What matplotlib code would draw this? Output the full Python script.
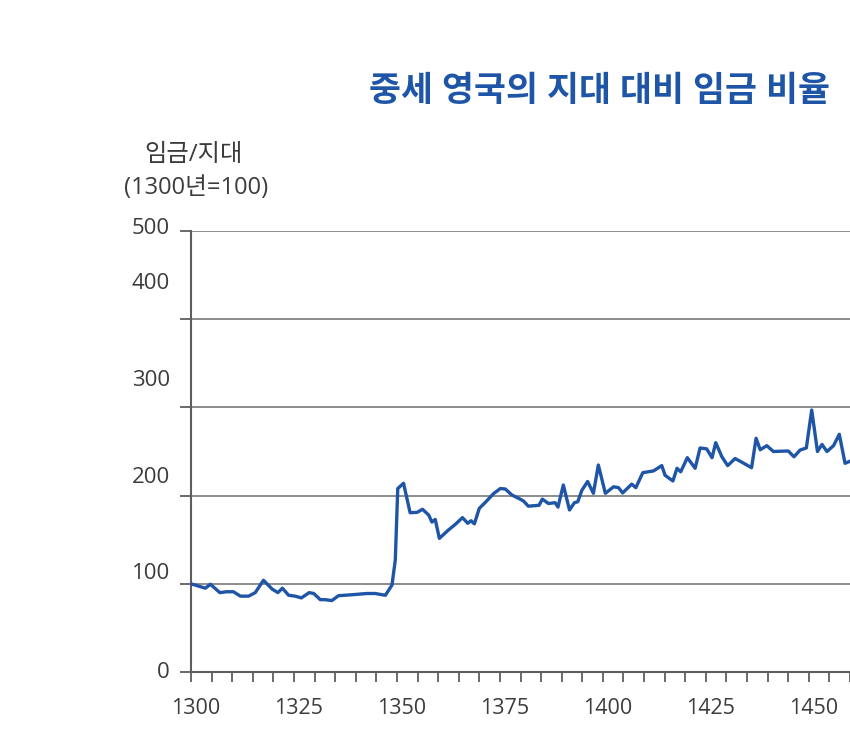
import matplotlib
matplotlib.use("Agg")
import matplotlib.pyplot as plt
from matplotlib.transforms import ScaledTranslation, blended_transform_factory

plt.rcParams['font.family'] = ['Open Sans', 'Noto Sans CJK KR', 'DejaVu Sans']

# ---- data ----
years = [1300.0, 1303.5, 1304.7, 1307.0, 1308.7, 1310.3, 1312.0, 1314.0, 1315.6, 1317.6,
         1319.7, 1321.1, 1322.2, 1323.7, 1325.3, 1326.8, 1328.7, 1329.8, 1331.4, 1332.6,
         1334.2, 1335.8, 1339.1, 1342.7, 1344.7, 1347.2, 1348.8, 1349.6, 1350.2, 1351.6,
         1353.2, 1354.9, 1356.2, 1357.7, 1358.5, 1359.3, 1360.3, 1362.5, 1364.2, 1365.9,
         1367.2, 1368.0, 1368.8, 1370.0, 1371.4, 1373.4, 1375.1, 1376.3, 1377.9, 1379.5,
         1380.7, 1381.9, 1384.5, 1385.3, 1386.8, 1388.4, 1389.1, 1390.4, 1391.9, 1393.1,
         1393.9, 1394.9, 1396.3, 1397.7, 1398.9, 1400.6, 1402.6, 1403.8, 1404.8, 1407.0,
         1408.0, 1409.7, 1412.3, 1414.3, 1415.1, 1417.0, 1418.0, 1418.9, 1420.5, 1422.4,
         1423.6, 1425.2, 1426.5, 1427.4, 1428.9, 1430.3, 1432.1, 1433.7, 1436.1, 1437.2,
         1438.2, 1439.8, 1441.4, 1445.0, 1446.4, 1447.9, 1449.4, 1450.7, 1452.1, 1453.2,
         1454.4, 1456.0, 1457.4, 1458.8, 1460.5]
ratio = [100, 95, 99.5, 90, 91, 91, 86, 86, 90, 104,
         94, 90, 95, 87, 86, 84, 90, 89, 82, 82,
         81, 86.5, 87.6, 89, 89, 87, 98.6, 127, 208, 214,
         180.6, 181, 184.5, 178, 170, 173, 151.5, 161, 167.5, 175,
         168.6, 171.5, 168, 185.6, 192, 202, 208, 207.5, 200.7, 197,
         194, 188, 189, 196, 191, 192, 187, 212, 183.7, 192,
         193, 206, 216, 202.6, 234.7, 202.6, 210, 209, 203, 213,
         209, 226, 228, 234, 223, 216.6, 231, 227, 243, 231,
         254, 253, 243, 260, 244, 234, 242, 238, 231.6, 265,
         252, 256.6, 250, 250.6, 244, 251.7, 254, 297, 250, 258,
         250, 256.6, 269.5, 236.6, 240]

xtick_values = [1300, 1325, 1350, 1375, 1400, 1425, 1450]
ytick_values = [0, 100, 200, 300, 400, 500]

title = "중세 영국의 지대 대비 임금 비율"
ylabel_lines = ["임금/지대", "(1300년=100)"]

# ---- layout ----
# in the reference the y tick labels sit at slightly different heights than the gridlines
ylabel_pos = [0, 112, 221, 331, 441, 503]

BLUE = "#1f55a6"
GRID = "#8c8c8c"
AXIS = "#5e5e5e"
TXT = "#3c3c3c"

fig = plt.figure(figsize=(8.5, 7.46), dpi=100)
ax = fig.add_axes([191 / 850, 74 / 746, 659 / 850, 441 / 746])

ax.plot(years, ratio, color=BLUE, lw=2.4, solid_joinstyle='round', zorder=3)

ax.set_xlim(1300, 1460)
ax.set_ylim(0, 500)

ax.set_xticks(xtick_values)
ax.set_xticks(range(1300, 1461, 5), minor=True)
ax.set_xticklabels([])
ax.set_yticks(ytick_values)
ax.set_yticklabels([])
ax.tick_params(axis='x', which='both', direction='out', length=7.5, width=1.3,
               color=AXIS)
ax.tick_params(axis='y', which='major', direction='out', length=8, width=1.3, color=AXIS)

# x tick labels (slightly right of their ticks, as in the reference)
xtrans = blended_transform_factory(ax.transData, ax.transAxes) + \
    ScaledTranslation(5 / 100, -37 / 100, fig.dpi_scale_trans)
for v in xtick_values:
    ax.text(v, 0, str(v), transform=xtrans, ha='center', va='center',
            fontsize=15.5, color=TXT, clip_on=False)

# y tick labels
ytrans = blended_transform_factory(ax.transAxes, ax.transData)
for v, p in zip(ytick_values, ylabel_pos):
    ax.text(-0.032, p, str(v), transform=ytrans, ha='right', va='center',
            fontsize=16, color=TXT)

ax.yaxis.grid(True, color=GRID, lw=1.4)
ax.set_axisbelow(True)

for s in ['top', 'right']:
    ax.spines[s].set_visible(False)
for s in ['left', 'bottom']:
    ax.spines[s].set_color(AXIS)
    ax.spines[s].set_linewidth(1.5)

fig.text(830 / 850, 1 - 92 / 746, title, ha='right', va='center',
         fontsize=25, fontweight='bold', color=BLUE)
fig.text(194 / 850, 1 - 155 / 746, ylabel_lines[0], ha='center', va='center',
         fontsize=17.5, color=TXT)
fig.text(196 / 850, 1 - 188 / 746, ylabel_lines[1], ha='center', va='center',
         fontsize=17, color=TXT)

fig.savefig("out.png", dpi=100)
